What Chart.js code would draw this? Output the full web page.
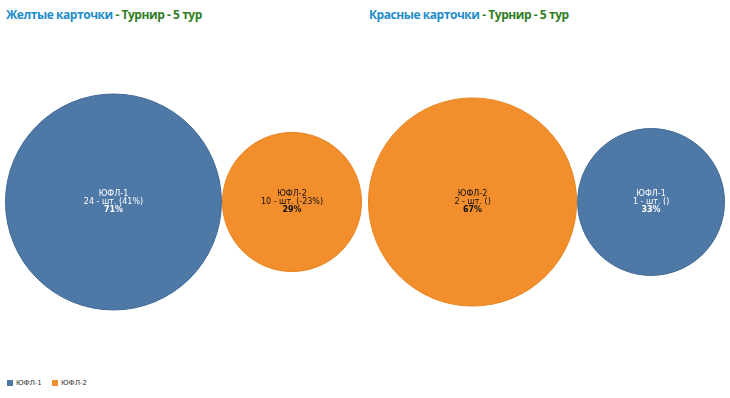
<!DOCTYPE html>
<html>
<head>
<meta charset="utf-8">
<script src="https://cdn.jsdelivr.net/npm/chart.js@4.4.1/dist/chart.umd.min.js"></script>
<style>
  body { margin: 0; width: 730px; height: 398px; background: #fff; position: relative; overflow: hidden; font-family: "Open Sans", sans-serif; }
  .title { position: absolute; top: 6px; font-size: 12px; font-weight: 700; white-space: nowrap; letter-spacing: -0.45px; }
  .title .a { color: #1d8dcc; }
  .title .b { color: #2f7d1f; }
  .box { position: absolute; top: 30px; width: 357px; height: 344px; }
  .legend { position: absolute; left: 7px; top: 379px; font-size: 7px; color: #333; font-family: "DejaVu Sans", sans-serif; white-space: nowrap; }
  .legend span.sw { display: inline-block; width: 6px; height: 6px; margin-right: 3px; vertical-align: -1px; }
  .legend span.it { margin-right: 8px; }
</style>
</head>
<body>
<div class="title" style="left:6px"><span class="a">Желтые карточки</span><span class="b"> - Турнир - 5 тур</span></div>
<div class="title" style="left:369px"><span class="a">Красные карточки</span><span class="b"> - Турнир - 5 тур</span></div>
<div class="box" style="left:5px"><canvas id="yellowChart"></canvas></div>
<div class="box" style="left:368px"><canvas id="redChart"></canvas></div>
<div class="legend">
  <span class="it"><span class="sw" style="background:#4e79a7"></span>ЮФЛ-1</span>
  <span class="it"><span class="sw" style="background:#f28e2b"></span>ЮФЛ-2</span>
</div>
<script>
// Yellow cards
const yellowLabels = ['ЮФЛ-1', 'ЮФЛ-2'];
const yellowValues = [24, 10];
const yellowChange = ['(41%)', '(-23%)'];
const yellowShare = [71, 29];

// Red cards
const redLabels = ['ЮФЛ-2', 'ЮФЛ-1'];
const redValues = [2, 1];
const redChange = ['()', '()'];
const redShare = [67, 33];

const teamColors = { 'ЮФЛ-1': '#4e79a7', 'ЮФЛ-2': '#f28e2b' };
const teamBorders = { 'ЮФЛ-1': '#3f6893', 'ЮФЛ-2': '#e5851f' };
const teamText = { 'ЮФЛ-1': '#ffffff', 'ЮФЛ-2': '#111111' };

const BOX_W = 357, BOX_H = 344;

const bubbleLabels = {
    id: 'bubbleLabels',
    afterDatasetsDraw(chart) {
        const ctx = chart.ctx;
        const info = chart.options.plugins.bubbleLabels;
        chart.getDatasetMeta(0).data.forEach((el, i) => {
            const lines = [
                info.names[i],
                info.values[i] + ' - шт. ' + info.changes[i],
                info.shares[i] + '%'
            ];
            ctx.save();
            ctx.fillStyle = teamText[info.names[i]];
            ctx.textAlign = 'center';
            ctx.textBaseline = 'middle';
            lines.forEach((t, k) => {
                ctx.font = (k === 2 ? 'bold ' : '') + '8px "DejaVu Sans"';
                ctx.fillText(t, el.x, el.y - 8 + k * 8);
            });
            ctx.restore();
        });
    }
};

function makeBubbles(id, names, values, changes, shares) {
    // packed side by side, area proportional to value, fitted to the box width
    const radii = values.map(v => Math.sqrt(v));
    const total = radii.reduce((a, r) => a + 2 * r, 0);
    const pxPerUnit = BOX_W / total;
    let acc = 0;
    const points = radii.map(r => {
        const p = { x: acc + r, y: 0, r: r * pxPerUnit - 0.5 };
        acc += 2 * r;
        return p;
    });
    const halfH = BOX_H / pxPerUnit / 2;
    new Chart(document.getElementById(id), {
        type: 'bubble',
        data: {
            datasets: [{
                data: points,
                backgroundColor: names.map(l => teamColors[l]),
                borderColor: names.map(l => teamBorders[l]),
                borderWidth: 1,
                hoverRadius: 0,
                clip: false
            }]
        },
        options: {
            responsive: true,
            maintainAspectRatio: false,
            animation: false,
            layout: { padding: 0, autoPadding: false },
            plugins: {
                legend: { display: false },
                tooltip: { enabled: false },
                bubbleLabels: { names: names, values: values, changes: changes, shares: shares }
            },
            scales: {
                x: { display: false, min: 0, max: total },
                y: { display: false, min: -halfH, max: halfH }
            }
        },
        plugins: [bubbleLabels]
    });
}

makeBubbles('yellowChart', yellowLabels, yellowValues, yellowChange, yellowShare);
makeBubbles('redChart', redLabels, redValues, redChange, redShare);
</script>
</body>
</html>
